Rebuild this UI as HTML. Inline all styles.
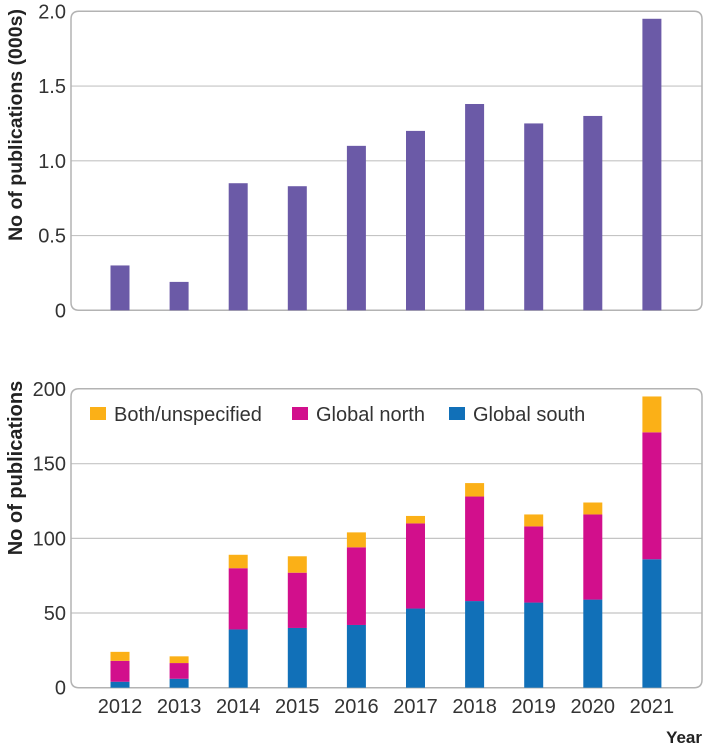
<!DOCTYPE html>
<html><head><meta charset="utf-8"><style>
html,body{margin:0;padding:0;background:#fff;}
svg{display:block;font-family:"Liberation Sans","DejaVu Sans",sans-serif;}
</style></head><body>
<svg id="c" width="703" height="749" viewBox="0 0 703 749" xmlns="http://www.w3.org/2000/svg"></svg>
<script>
const years = ["2012","2013","2014","2015","2016","2017","2018","2019","2020","2021"];
const totalThousands = [0.30,0.19,0.85,0.83,1.10,1.20,1.38,1.25,1.30,1.95];
const globalSouth = [4,6,39,40,42,53,58,57,59,86];
const globalNorth = [14,10.5,41,37,52,57,70,51,57,85];
const bothUnspecified = [6,4.5,9,11,10,5,9,8,8,24];
const topTicks = ["0","0.5","1.0","1.5","2.0"];
const topTickValues = [0,0.5,1,1.5,2];
const bottomTickValues = [0,50,100,150,200];
const seriesNames = ["Both/unspecified","Global north","Global south"];

const NS="http://www.w3.org/2000/svg";
const svg=document.getElementById('c');
function mk(t,a,p){const e=document.createElementNS(NS,t);for(const k in a)e.setAttribute(k,a[k]);(p||svg).appendChild(e);return e;}
const X0=71,X1=702,bw=19;
function xC(i){return 120+i*59.1;}
function yTop(v){return 310.3-v*149.5;}
function yBot(v){return 687.7-v*1.4935;}
const GRID="#c4c4c4",FRAME="#b3b3b3",TXT="#333";

function panel(yf,ticks,labels,top,bottom,name){
  const g=mk('g',{});
  
  
  ticks.forEach((v,i)=>{
    const y=yf(v);
    if(i>0&&i<ticks.length-1){const l=mk('line',{x1:X0,x2:X1,y1:y,y2:y,stroke:GRID,'stroke-width':1.2},g);
      }
    const t=mk('text',{x:66,y:y+7,'text-anchor':'end','font-size':20,fill:TXT},g);
    t.textContent=labels[i];
    
  });
  const r=mk('path',{d:`M${X1-8},${top} H${X0+8} Q${X0},${top} ${X0},${top+8} V${bottom-8} Q${X0},${bottom} ${X0+8},${bottom} H${X1-8} Q${X1},${bottom} ${X1},${bottom-8} V${top+8} Q${X1},${top} ${X1-8},${top} Z`,fill:'none',stroke:FRAME,'stroke-width':1.5},g);
  
  return g;
}
const gt=panel(yTop,topTickValues,topTicks,11.3,310.3,'top-panel');
totalThousands.forEach((v,i)=>{
  const b=mk('rect',{x:xC(i)-bw/2,y:yTop(v),width:bw,height:yTop(0)-yTop(v),fill:'#6b5aa7'},gt);
  
});
let t=mk('text',{transform:'translate(22,125) rotate(-90)','text-anchor':'middle','font-size':19.5,'font-weight':'bold',fill:'#222'});
t.textContent='No of publications (000s)';

const gb=panel(yBot,bottomTickValues,bottomTickValues.map(String),388.7,687.7,'bottom-panel');
const cols=['#1170b8','#d20f8c','#fbb017'];
const stacks=[globalSouth,globalNorth,bothUnspecified];
years.forEach((yr,i)=>{
  let base=0;
  stacks.forEach((s,k)=>{
    const v=s[i];
    const b=mk('rect',{x:xC(i)-bw/2,y:yBot(base+v),width:bw,height:yBot(base)-yBot(base+v),fill:cols[k]},gb);
    
    base+=v;
  });
  const l=mk('text',{x:xC(i),y:713,'text-anchor':'middle','font-size':20,fill:TXT},gb);
  l.textContent=yr;
});
t=mk('text',{transform:'translate(22,468) rotate(-90)','text-anchor':'middle','font-size':20,'font-weight':'bold',fill:'#222'});
t.textContent='No of publications';
t=mk('text',{x:702,y:743,'text-anchor':'end','font-size':17,'font-weight':'bold',fill:'#222'});
t.textContent='Year';

const legX=[90,292,449],legC=['#fbb017','#d20f8c','#1170b8'];
seriesNames.forEach((n,i)=>{
  const g=mk('g',{});
  
  mk('rect',{x:legX[i],y:407,width:16,height:13,fill:legC[i]},g);
  const tx=mk('text',{x:legX[i]+24,y:421,'font-size':20,fill:TXT},g);
  tx.textContent=n;
});
</script>
</body></html>
